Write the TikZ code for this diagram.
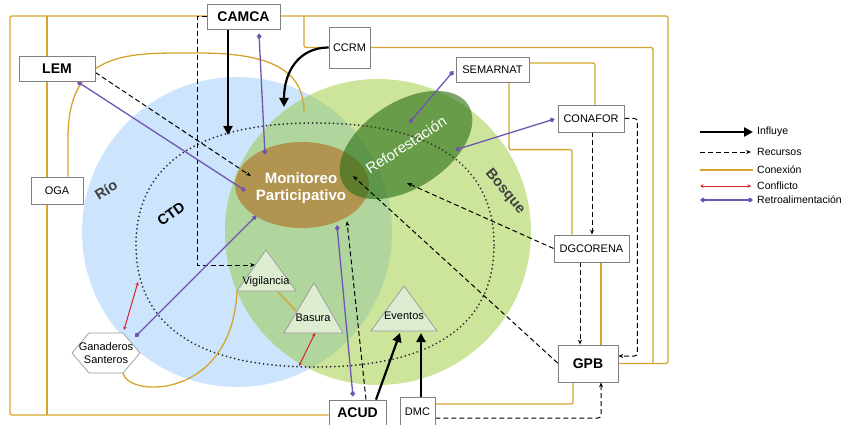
\documentclass[tikz,border=0pt]{standalone}
\usepackage{fontspec}
\setmainfont{Liberation Sans}
\usepackage{xcolor}
\definecolor{conex}{RGB}{214,164,46}
\definecolor{retro}{RGB}{112,86,178}
\definecolor{confl}{RGB}{218,34,40}
\definecolor{rio}{RGB}{204,228,252}
\definecolor{bosque}{RGB}{204,229,154}
\definecolor{mezcla}{RGB}{176,214,158}
\definecolor{monit}{RGB}{176,148,80}
\definecolor{refor}{RGB}{45,112,22}
\definecolor{borde}{RGB}{128,128,128}
\definecolor{trifill}{RGB}{222,237,210}
\usepackage{tikz}
\usetikzlibrary{calc,positioning,arrows.meta,shapes.geometric}
\pgfdeclarelayer{back}
\pgfdeclarelayer{links}
\pgfsetlayers{back,links,main}

\begin{document}
\begin{tikzpicture}[x=1pt, y=-1pt,
    actor/.style={draw=borde, fill=white, line width=0.8pt, inner sep=0pt, font=\fontsize{11}{13}\selectfont},
    mainactor/.style={actor, font=\fontsize{14}{16}\selectfont\bfseries},
    influye/.style={-{Triangle[length=9pt,width=9pt]}, line width=2.2pt},
    recurso/.style={-{Stealth[length=5pt,width=4pt]}, dash pattern=on 5pt off 3pt, line width=1pt},
    conexion/.style={conex, line width=1.3pt, rounded corners=2pt},
    conflicto/.style={{Stealth[length=3.5pt,width=3.5pt]}-{Stealth[length=3.5pt,width=3.5pt]}, confl, line width=1pt},
    retroal/.style={{Diamond[length=6pt,width=5pt]}-{Diamond[length=6pt,width=5pt]}, retro, line width=1.3pt},
    tri/.style={draw=borde!80, fill=trifill, line width=0.7pt},
    trilabel/.style={font=\fontsize{11}{13}\selectfont, inner sep=0pt},
    zone/.style={font=\fontsize{14.5}{16}\selectfont\bfseries, text=black!75},
    legtext/.style={anchor=west, inner sep=0pt, font=\fontsize{10.5}{12}\selectfont}
]
  \useasboundingbox (0,0) rectangle (848,425);

  % Zones
  \coordinate (ctd) at (315,245);
  \begin{pgfonlayer}{back}
    \fill[rio] (237,232) circle (155pt);
    \fill[bosque] (378,232) circle (153pt);
    \begin{scope}
      \clip (237,232) circle (155pt);
      \fill[mezcla] (378,232) circle (153pt);
    \end{scope}
    \node[ellipse, fill=monit, minimum width=134pt, minimum height=86pt, inner sep=0pt] (mon) at (302,185) {};
    \node[ellipse, rotate=33, fill=refor, fill opacity=0.62, text opacity=1, minimum width=148pt,
          minimum height=86pt, inner sep=0pt, text=white, font=\fontsize{15}{17}\selectfont] (refo) at (406,145) {Reforestación};
    % CTD boundary
    \draw[black!80, line width=2pt, line cap=round, dash pattern=on 0pt off 4.2pt]
      ($(ctd)+(179,0)$) .. controls +(0,-80) and +(118,0) .. ($(ctd)+(0,-122)$)
      .. controls +(-118,0) and +(0,-80) .. ($(ctd)+(-179,0)$)
      .. controls +(0,80) and +(-118,0) .. ($(ctd)+(0,122)$)
      .. controls +(118,0) and +(0,80) .. ($(ctd)+(179,0)$);

    % Activities
    \coordinate (vigTop) at (266,250);
    \coordinate (basTop) at (314,283);
    \coordinate (eveTop) at (404,286);
    \draw[tri] (vigTop) -- ++(30,41) -- ++(-59,0) -- cycle;
    \draw[tri] (basTop) -- ++(29,50) -- ++(-59,0) -- cycle;
    \draw[tri] (eveTop) -- ++(33,45) -- ++(-66,0) -- cycle;
    \draw[draw=borde!80, fill=white, line width=0.7pt] (72,353) -- (89,333) -- (123,333) -- (140,353) -- (123,373) -- (89,373) -- cycle;
  \end{pgfonlayer}

  \node[text=white, align=center, inner sep=0pt, font=\fontsize{15}{17}\selectfont\bfseries] (monT) at (301,188) {Monitoreo\\Participativo};
  \node[trilabel] (vig) at (266,282) {Vigilancia};
  \node[trilabel] (bas) at (313,318) {Basura};
  \node[trilabel] (eve) at (404,316) {Eventos};
  \node[trilabel, align=center, font=\fontsize{11}{12.5}\selectfont] (gan) at (106,353) {Ganaderos\\Santeros};

  \node[zone, rotate=32] (rioL) at (106,190) {Río};
  \node[zone, rotate=36, text=black] (ctdL) at (171,214) {CTD};
  \node[zone, rotate=-50] (bosL) at (505,192) {Bosque};

  % Actors
  \node[mainactor, minimum width=73pt, minimum height=25pt] (camca) at (243.5,16.5) {CAMCA};
  \node[mainactor, minimum width=76pt, minimum height=25pt] (lem) at (57,68.5) {LEM};
  \node[actor, minimum width=52pt, minimum height=27pt] (oga) at (57,190.5) {OGA};
  \node[actor, minimum width=41pt, minimum height=41pt] (ccrm) at (349.5,47.5) {CCRM};
  \node[actor, minimum width=73pt, minimum height=25pt] (semarnat) at (492.5,69.5) {SEMARNAT};
  \node[actor, minimum width=66pt, minimum height=27pt] (conafor) at (591,118.5) {CONAFOR};
  \node[actor, minimum width=75pt, minimum height=27pt] (dgcorena) at (591.5,248.5) {DGCORENA};
  \node[mainactor, minimum width=60pt, minimum height=37pt] (gpb) at (588,363.5) {GPB};
  \node[mainactor, minimum width=57pt, minimum height=26pt] (acud) at (357.5,413) {ACUD};
  \node[actor, minimum width=35pt, minimum height=30pt] (dmc) at (417.5,412) {DMC};

  \coordinate (fNW) at (10,16);
  \coordinate (fNE) at (668,16);
  \coordinate (fSW) at (10,415);
  \coordinate (iN) at (47,16);
  \coordinate (iE) at (653,363);
  \coordinate (archEnd) at (304,112);
  \coordinate (camTip) at (228,135);
  \coordinate (ccrmTip) at (284,107);

  \begin{pgfonlayer}{links}
    % Conexion
    \draw[conexion] (gpb.east) -- (fNE |- gpb.east) -- (fNE) -- (fNW) -- (fSW) -- (acud.west |- fSW);
    \draw[conexion] (iN) -- (iN |- fSW);
    \draw[conexion] ($(fNW)+(294,0)$) |- (ccrm.west);
    \draw[conexion] (ccrm.east) -| (iE);
    \draw[conexion] ($(semarnat.east)+(0,-6.5)$) -| ($(conafor.north)+(4,0)$);
    \draw[conexion] ($(semarnat.south)+(16.5,0)$) |- ($(dgcorena.north)+(-19.5,-85)$) -- ($(dgcorena.north)+(-19.5,0)$);
    \draw[conexion] ($(dgcorena.south)+(9.5,0)$) -- ($(gpb.north)+(13,0)$);
    \draw[conexion] ($(gpb.south)+(-15,0)$) |- ($(dmc.east)+(0,-8)$);
    \draw[conexion] ($(oga.north)+(11,0)$) -- ++(0,-37) .. controls +(0,-90) and +(-67,0) .. (197,53)
                    .. controls +(73,0) and +(0,-42) .. (archEnd);
    \draw[conexion] ($(gan)+(17,20)$) .. controls +(5,25) and +(-5,109) .. ($(vigTop)+(-29,41)$);
    \draw[conexion] ($(vigTop)+(12,42)$) -- ($(basTop)+(-18,28)$);

    % Recursos
    \draw[recurso] ($(lem.east)+(0,4)$) -- ($(mon.west)+(16,-9)$);
    \draw[recurso] (camca.west) -| ($(vigTop)+(-69,15)$) -- ($(vigTop)+(-11,15)$);
    \draw[recurso] ($(acud.north)+(8.5,0)$) -- ($(mon.south)+(45,-7)$);
    \draw[recurso] (dgcorena.west) -- ($(refo)+(1,38)$);
    \draw[recurso] ($(gpb.west)+(0,-0.5)$) -- ($(mon)+(51,-9)$);
    \draw[recurso] ($(conafor.south)+(1,0)$) -- ($(dgcorena.north)+(0.5,0)$);
    \draw[recurso, rounded corners=3pt] (conafor.east) -- ++(13,0) |- ($(gpb.east)+(0,-7.5)$);
    \draw[recurso] ($(dgcorena.south)+(-11.5,0)$) -- ($(gpb.north)+(-8,0)$);
    \draw[recurso, rounded corners=3pt] ($(dmc.east)+(0,6)$) -| ($(gpb.south)+(13,0)$);

    % Retroalimentacion
    \draw[retroal] ($(lem.south)+(20,0)$) -- ($(mon.west)+(11,6)$);
    \draw[retroal] ($(camca.south)+(15.5,4)$) -- ($(mon.north)+(-37,13)$);
    \draw[retroal] ($(gan)+(29,-16)$) -- ($(mon.south west)+(2,0)$);
    \draw[retroal] ($(semarnat.west)+(-2,1.5)$) -- ($(refo)+(3,-22)$);
    \draw[retroal] ($(conafor.west)+(-3,0.5)$) -- ($(refo)+(49,5)$);
    \draw[retroal] ($(acud.north)+(-4.5,-3)$) -- ($(mon.south)+(35,-3)$);

    % Conflicto
    \draw[conflicto] ($(gan)+(18,-23)$) -- ($(ctd)+(-177,37)$);
    \draw[conflicto] ($(basTop)+(1,50)$) -- ($(ctd)+(-16,121)$);

    % Influye
    \draw[influye] (camTip |- camca.south) -- (camTip);
    \draw[influye] (ccrm.west) .. controls +(-30,0) and +(0,-35) .. (ccrmTip);
    \draw[influye] ($(acud.north)+(18.5,0)$) -- ($(eveTop)+(-4,47)$);
    \draw[influye] ($(dmc.north)+(3.5,0)$) -- ($(eveTop)+(17,47)$);
  \end{pgfonlayer}

  % Legend
  \node[legtext] (lInf) at (757,132) {Influye};
  \node[legtext] (lRec) at (757,152) {Recursos};
  \node[legtext] (lCon) at (757,170) {Conexión};
  \node[legtext] (lCfl) at (757,186) {Conflicto};
  \node[legtext] (lRet) at (757,200) {Retroalimentación};
  \draw[influye] ($(lInf.west)+(-57,0)$) -- ($(lInf.west)+(-4,0)$);
  \draw[recurso] ($(lRec.west)+(-57,0)$) -- ($(lRec.west)+(-6,0)$);
  \draw[conexion] ($(lCon.west)+(-57,0)$) -- ($(lCon.west)+(-4,0)$);
  \draw[conflicto] ($(lCfl.west)+(-57,0)$) -- ($(lCfl.west)+(-6,0)$);
  \draw[retroal] ($(lRet.west)+(-57,0)$) -- ($(lRet.west)+(-4,0)$);
\end{tikzpicture}
\end{document}
